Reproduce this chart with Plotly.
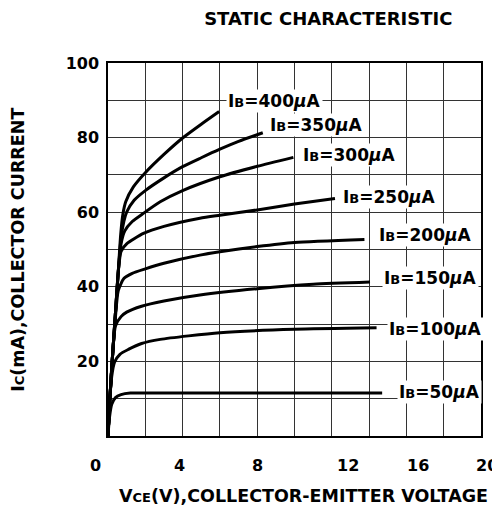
import plotly.graph_objects as go

# ---- data ----
v50 = [0, 0.08, 0.2, 0.4, 0.7, 1.2, 3.0, 14.7]
i50 = [0, 5.0, 8.5, 10.3, 11.1, 11.5, 11.5, 11.5]

v100 = [0, 0.1, 0.2, 0.35, 0.64, 1.09, 1.8, 2.8, 6.0, 10.0, 14.4]
i100 = [0, 10.0, 16.0, 19.8, 21.9, 23.2, 24.8, 25.9, 27.7, 28.6, 29.0]

v150 = [0, 0.1, 0.25, 0.4, 0.7, 1.0, 1.8, 3.0, 4.93, 8.0, 11.0, 14.05]
i150 = [0, 10.0, 22.0, 29.5, 32.0, 33.2, 34.8, 36.2, 37.8, 39.5, 40.7, 41.3]

v200 = [0, 0.1, 0.25, 0.4, 0.55, 0.85, 1.3, 2.0, 3.0, 4.93, 6.0, 8.0, 10.0, 13.75]
i200 = [0, 10.0, 22.0, 32.0, 39.0, 42.2, 43.6, 44.8, 46.3, 48.5, 49.4, 50.8, 51.9, 52.7]

v250 = [0, 0.1, 0.25, 0.4, 0.55, 0.7, 1.0, 1.9, 3.0, 4.93, 6.0, 8.0, 10.0, 12.17]
i250 = [0, 10.0, 22.0, 33.0, 44.0, 49.5, 51.5, 54.3, 56.2, 58.4, 59.2, 60.6, 62.2, 63.7]

v300 = [0, 0.1, 0.25, 0.4, 0.55, 0.7, 0.9, 1.3, 1.9, 2.8, 4.0, 6.0, 8.0, 9.94]
i300 = [0, 10.0, 22.0, 33.0, 44.0, 51.5, 55.0, 57.5, 59.7, 62.8, 65.8, 69.5, 72.3, 74.7]

v350 = [0, 0.1, 0.25, 0.4, 0.55, 0.7, 0.85, 1.0, 1.4, 2.0, 3.0, 4.0, 5.0, 6.0, 7.0, 8.3]
i350 = [0, 10.0, 22.0, 33.0, 44.0, 53.0, 57.5, 60.0, 63.2, 65.8, 69.2, 72.2, 74.6, 76.9, 79.0, 81.3]

v400 = [0, 0.1, 0.25, 0.4, 0.55, 0.68, 0.8, 0.95, 1.36, 2.0, 3.0, 4.0, 5.0, 5.96]
i400 = [0, 10.0, 22.0, 33.0, 44.0, 54.0, 59.5, 62.8, 66.8, 70.6, 75.5, 79.9, 83.6, 87.0]

base_currents = ["50", "100", "150", "200", "250", "300", "350", "400"]
label_x = [17.8, 17.56, 17.27, 17.0, 15.12, 12.96, 11.18, 8.95]
label_y = [11.9, 28.7, 42.4, 53.9, 64.2, 75.3, 83.4, 89.8]

x_tick_vals = [0, 4, 8, 12, 16, 20]
x_tick_text = ["0", "4", "8", "12", "16", "20"]
x_tick_shift = [-13, -3, 0, 16, 12, 6]

y_tick_vals = [20, 40, 60, 80, 100]
y_tick_text = ["20", "40", "60", "80", "100"]

series = [(v50, i50), (v100, i100), (v150, i150), (v200, i200),
          (v250, i250), (v300, i300), (v350, i350), (v400, i400)]

FONT = "DejaVu Sans"
GRID = "#333333"

fig = go.Figure()
for v, i in series:
    fig.add_trace(go.Scatter(
        x=v, y=i, mode="lines",
        line=dict(color="black", width=3, shape="spline", smoothing=0.6),
        hoverinfo="skip", showlegend=False))

for cur, lx, ly in zip(base_currents, label_x, label_y):
    fig.add_annotation(
        x=lx, y=ly, xref="x", yref="y",
        text="I<span style='font-size:13px'>B</span>=" + cur + "<i>\u03bc</i>A",
        showarrow=False, bgcolor="white", borderpad=1,
        font=dict(family=FONT, size=17, color="black", weight="bold"),
        xanchor="center", yanchor="middle")

for tv, tt, sh in zip(x_tick_vals, x_tick_text, x_tick_shift):
    fig.add_annotation(
        x=tv, y=-0.078, xref="x", yref="paper", text=tt, showarrow=False,
        xshift=sh, xanchor="center", yanchor="middle",
        font=dict(family=FONT, size=16, color="black", weight="bold"))

# axis titles
fig.add_annotation(
    x=0.523, y=-0.161, xref="paper", yref="paper",
    text="V<span style='font-size:13px'>CE</span>(V),COLLECTOR-EMITTER VOLTAGE",
    showarrow=False, xanchor="center", yanchor="middle",
    font=dict(family=FONT, size=17.5, color="black", weight="bold"))
fig.add_annotation(
    x=-0.243, y=0.5, xref="paper", yref="paper", textangle=-90,
    text="I<span style='font-size:13px'>C</span>(mA),COLLECTOR CURRENT",
    showarrow=False, xanchor="center", yanchor="middle",
    font=dict(family=FONT, size=17.5, color="black", weight="bold"))

# the page body adds an 8px margin, so the figure is sized to fit inside it
fig.update_layout(
    width=492, height=503,
    margin=dict(l=100, r=19, t=55, b=75),
    paper_bgcolor="white", plot_bgcolor="white",
    font=dict(family=FONT, size=16, color="black", weight="bold"),
    title=dict(text="STATIC CHARACTERISTIC", x=0.651, xanchor="center",
               y=1 - 11 / 503, yanchor="middle", yref="container",
               font=dict(family=FONT, size=18, color="black", weight="bold")),
)
fig.update_xaxes(
    range=[0, 20], dtick=2, tick0=0, showticklabels=False, ticks="",
    showgrid=True, gridcolor=GRID, gridwidth=1, zeroline=False,
    showline=True, linecolor="black", linewidth=1.5, mirror=True, fixedrange=True)
fig.update_yaxes(
    range=[0, 100], tickvals=y_tick_vals, ticktext=y_tick_text, ticks="",
    ticklabelstandoff=4,
    showgrid=True, gridcolor=GRID, gridwidth=1, zeroline=False,
    minor=dict(dtick=10, tick0=0, showgrid=True, gridcolor=GRID, gridwidth=1, ticks=""),
    showline=True, linecolor="black", linewidth=1.5, mirror=True, fixedrange=True,
    tickfont=dict(family=FONT, size=16, color="black", weight="bold"))

fig.write_html("out.html")
